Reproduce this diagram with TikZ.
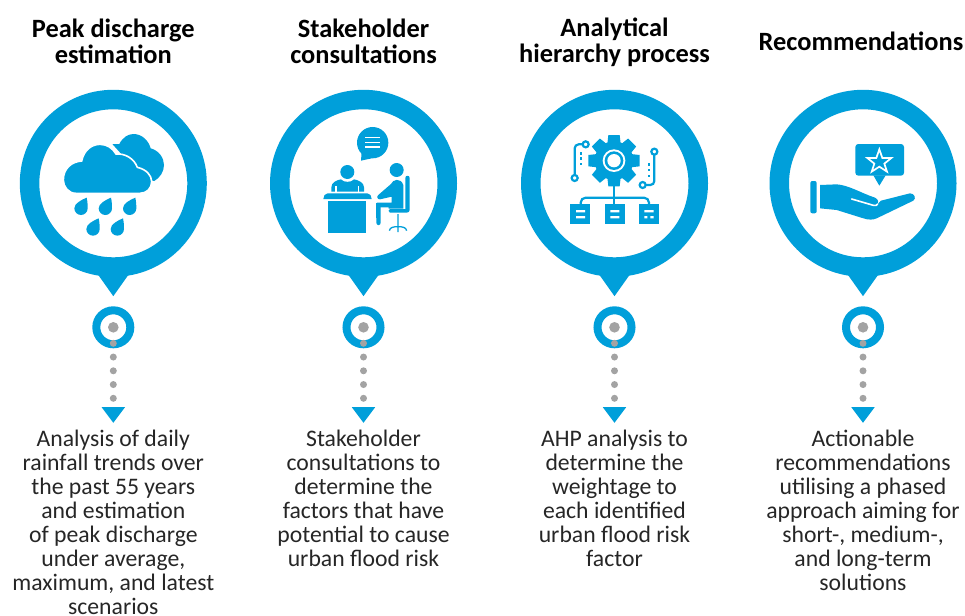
\documentclass[tikz,border=0pt]{standalone}
\usepackage{fontspec}
\setmainfont{Carlito}
\usetikzlibrary{calc}
\usetikzlibrary{positioning}
\usetikzlibrary{shapes.geometric}
\definecolor{pinblue}{HTML}{009FDA}
\definecolor{dotgrey}{HTML}{A3A3A3}
\tikzset{
  pin/.style={circle, draw=pinblue, fill=white, line width=19.5pt, minimum size=167.5pt, inner sep=0pt},
  ring/.style={circle, draw=pinblue, fill=white, line width=8pt, minimum size=34pt, inner sep=0pt},
  core/.style={circle, fill=dotgrey, minimum size=10.6pt, inner sep=0pt},
  downtip/.style={isosceles triangle, isosceles triangle stretches, shape border rotate=-90,
    fill=pinblue, inner sep=0pt, anchor=apex},
  title/.style={font=\bfseries\fontsize{26.4}{26}\selectfont, align=center, text=black, inner sep=0pt},
  body/.style={font=\fontsize{23.7}{24}\selectfont, align=center, text=black!85, inner sep=0pt},
  dotline/.style={draw=dotgrey, line width=7pt, line cap=round, dash pattern=on 0pt off 13.75pt,
    shorten <=16pt, shorten >=24pt},
  raindrop/.pic={
    \fill[pinblue] (17,-32) .. controls (20,-18) and (20,-8) .. (20,0)
      .. controls (20,11) and (11,20) .. (0,20) .. controls (-11,20) and (-20,11) .. (-20,0)
      .. controls (-20,-14) and (0,-25) .. (17,-32);
  }
}

\begin{document}
\begin{tikzpicture}[x=1pt, y=-1pt, on grid, node distance=144pt]
    \useasboundingbox (0,0) rectangle (965,615);

    \node[pin] (PinRain) at (113.3,183.3) {};
    \node[pin] (PinTalk) [right=250.2pt of PinRain] {};
    \node[pin] (PinGear) [right=251pt of PinTalk] {};
    \node[pin] (PinHand) [right=248.5pt of PinGear] {};

    \node[title] (TitleRain) [above=142pt of PinRain] {Peak discharge\\estimation};
    \node[title] (TitleTalk) [above=142pt of PinTalk] {Stakeholder\\consultations};
    \node[title] (TitleGear) [above=141pt of PinGear] {Analytical\\hierarchy process};
    \node[title] (TitleHand) [above=142pt of PinHand, xshift=-2pt] {Recommendations};

    \foreach \col in {Rain,Talk,Gear,Hand} {
      \node[downtip, minimum width=34pt, minimum height=24pt] (Beak\col) at ([yshift=-113.4pt]Pin\col.center) {};
      \node[ring] (Ring\col) [below=of Pin\col] {};
      \node[core] (Core\col) [below=of Pin\col] {};
      \node[downtip, minimum width=23.4pt, minimum height=15.6pt] (Tip\col) at ([yshift=-96pt]Ring\col.center) {};
      \path[dotline] (Ring\col.center) -- (Tip\col.apex);
    }

    \node[body, anchor=north, at={([yshift=-7pt]TipRain.apex)}] (TextRain) {Analysis of daily\\rainfall trends over\\the past 55 years\\and estimation\\of peak discharge\\under average,\\maximum, and latest\\scenarios};
    \node[body, anchor=north, at={([yshift=-7pt]TipTalk.apex)}] (TextTalk) {Stakeholder\\consultations to\\determine the\\factors that have\\potential to cause\\urban flood risk};
    \node[body, anchor=north, at={([yshift=-7pt]TipGear.apex)}] (TextGear) {AHP analysis to\\determine the\\weightage to\\each identified\\urban flood risk\\factor};
    \node[body, anchor=north, at={([yshift=-7pt]TipHand.apex)}] (TextHand) {Actionable\\recommendations\\utilising a phased\\approach aiming for\\short-, medium-,\\and long-term\\solutions};

    % clouds and rain
    \begin{scope}[shift={(60,130)}, scale=1/3]
      \fill[pinblue] (157,42) -- (178,42) .. controls (188,22) and (205,12) .. (220,12)
        .. controls (245,12) and (265,30) .. (272,55) .. controls (298,62) and (312,85) .. (312,105)
        .. controls (312,125) and (300,143) .. (283,153) -- (270,150) -- (200,90) -- cycle;
      \filldraw[fill=pinblue, draw=white, line width=1.6pt] (48,190) .. controls (25,190) and (10,170) .. (10,150)
        .. controls (10,115) and (35,95) .. (65,93) .. controls (72,60) and (95,43) .. (120,43)
        .. controls (142,43) and (158,55) .. (168,72) .. controls (195,70) and (222,85) .. (232,112)
        .. controls (258,118) and (275,135) .. (275,155) .. controls (275,175) and (260,190) .. (240,190) -- cycle;
      \foreach \dropx/\dropy in {63/235, 136/235, 209/235, 99/297, 172/297}
        \pic[transform shape] at (\dropx,\dropy) {raindrop};
    \end{scope}

    % two people at a desk
    \begin{scope}[shift={(290,110)}, scale=1/3]
      \fill[pinblue] (248,98) circle (47);
      \fill[pinblue] (215,125) -- (213,152) -- (245,145) -- cycle;
      \foreach \bary in {82,97,111}
        \draw[white, line width=1.3pt] (225,\bary) -- (270,\bary);
      \fill[pinblue] (172,186) circle (21);
      \fill[pinblue] (124,245) -- (124,232) .. controls (124,218) and (140,210) .. (153,208)
        .. controls (160,218) and (185,218) .. (192,208) .. controls (205,210) and (222,218) .. (222,232)
        -- (222,245) -- cycle;
      \draw[white, line width=1.2pt] (138,228) -- (138,246) (206,228) -- (206,246);
      \fill[pinblue] (113,250) -- (232,250) .. controls (240,250) and (245,258) .. (245,267) -- (100,267)
        .. controls (100,258) and (105,250) .. (113,250) -- cycle;
      \fill[pinblue] (114,272) rectangle (228,369);
      \fill[pinblue] (320,180) circle (21);
      \fill[pinblue] (303,222) .. controls (308,208) and (332,202) .. (340,225) -- (340,296) -- (296,296) -- (296,292)
        -- (258,292) -- (258,280) .. controls (258,278) and (260,278) .. (262,278) -- (305,278) -- (305,260)
        -- (270,268) .. controls (262,268) and (258,260) .. (266,254) -- cycle;
      \fill[pinblue] (258,285) -- (272,285) -- (272,338) .. controls (272,348) and (259,348) .. (259,338) -- cycle;
      \fill[pinblue] (346,204) .. controls (346,195) and (359,195) .. (359,204) -- (359,300)
        .. controls (359,305) and (355,308) .. (350,308) -- (300,308) .. controls (294,308) and (294,297) .. (300,297)
        -- (346,297) -- cycle;
      \draw[pinblue, line width=1.3pt] (324,312) -- (324,366)
        (298,362) .. controls (300,352) and (310,350) .. (324,350) .. controls (338,350) and (348,352) .. (350,362);
    \end{scope}

    % gear and its links
    \begin{scope}[shift={(545,120)}, scale=1/3]
      \foreach \gearang in {0,45,...,315}
        \fill[pinblue, shift={(207,122)}, rotate=\gearang] (-20,-50) -- (-17,-77) -- (17,-77) -- (20,-50) -- cycle;
      \fill[pinblue] (207,122) circle (58);
      \fill[white] (207,122) circle (34);
      \fill[pinblue] (207,122) circle (28);
      \fill[white] (207,122) circle (20);
      \begin{scope}[draw=pinblue, line width=2.2pt, fill=white]
        \draw[rounded corners=4pt] (113,73) -- (89,73) -- (89,165);
        \filldraw (122,73) circle (9);
        \filldraw (89,174) circle (9);
        \draw[rounded corners=4pt] (328,104) -- (328,195) -- (302,195);
        \filldraw (328,95) circle (9);
        \filldraw (293,195) circle (9);
        \draw (207,195) -- (207,252);
        \draw[rounded corners=5pt] (107,252) -- (107,233) -- (312,233) -- (312,252);
      \end{scope}
      \foreach \doty in {100,115,131}
        \fill[pinblue] (103.5,\doty-3.5) rectangle (110.5,\doty+3.5);
      \foreach \doty in {133,150,167}
        \fill[pinblue] (307.5,\doty-3.5) rectangle (314.5,\doty+3.5);
      \foreach \boxx in {76,179,282}
        \fill[pinblue] (\boxx,252) rectangle (\boxx+60,312);
      \fill[white] (93,270) rectangle (120,277) (93,288) rectangle (120,295);
      \fill[white] (196,270) rectangle (223,277) (196,288) rectangle (223,295);
      \fill[white] (298,270) rectangle (326,277) (298,288) rectangle (307,295) (316,288) rectangle (326,295);
    \end{scope}

    % hand holding a rated bubble
    \begin{scope}[shift={(795,130)}, scale=1/3]
      \fill[pinblue, rounded corners=3pt] (181,42) rectangle (327,137);
      \fill[pinblue] (235,136) -- (253,167) -- (272,136) -- cycle;
      \draw[white, line width=1.7pt, line join=miter]
        (253,58) -- (262,84) -- (289,84) -- (268,101) -- (276,125) -- (253,110)
        -- (230,125) -- (238,101) -- (217,84) -- (244,84) -- cycle;
      \fill[pinblue, rounded corners=2pt] (46,153) rectangle (65,250);
      \fill[pinblue] (75,165) -- (125,163) .. controls (160,165) and (200,190) .. (240,203)
        .. controls (250,208) and (252,218) .. (248,222) -- (258,212) -- (345,190)
        .. controls (358,190) and (365,205) .. (355,212) -- (245,265)
        .. controls (235,270) and (220,270) .. (205,265) -- (125,240) -- (75,235) -- cycle;
      \draw[white, line width=1.6pt, line cap=round] (170,207) -- (235,226) .. controls (242,228) and (246,226) .. (248,222);
    \end{scope}

\end{tikzpicture}
\end{document}
